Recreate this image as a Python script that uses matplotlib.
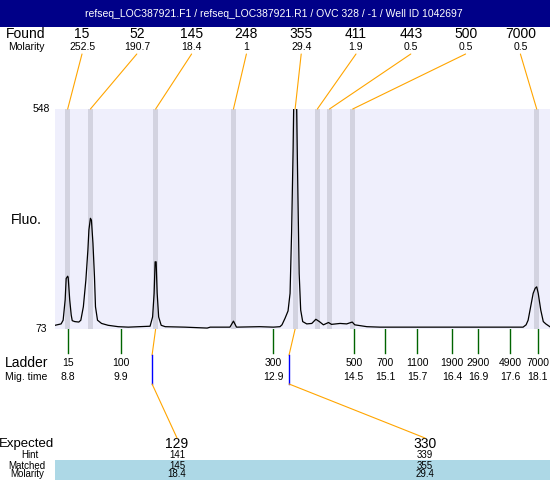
import matplotlib
matplotlib.use("Agg")
import matplotlib.pyplot as plt
import matplotlib.transforms as mtransforms
from matplotlib.patches import Rectangle, ConnectionPatch

plt.rcParams['font.family'] = ['Liberation Sans', 'DejaVu Sans']

# ---- data ----
title = "refseq_LOC387921.F1 / refseq_LOC387921.R1 / OVC 328 / -1 / Well ID 1042697"

# found peaks (size, molarity, migration time in s)
found_sizes = ['15', '52', '145', '248', '355', '411', '443', '500', '7000']
found_molarity = ['252.5', '190.7', '18.4', '1', '29.4', '1.9', '0.5', '0.5', '0.5']
found_time = [8.80, 9.25, 10.54, 12.08, 13.30, 13.74, 13.98, 14.44, 18.08]

# ladder
ladder_sizes = ['15', '100', '300', '500', '700', '1100', '1900', '2900', '4900', '7000']
ladder_mig = ['8.8', '9.9', '12.9', '14.5', '15.1', '15.7', '16.4', '16.9', '17.6', '18.1']
ladder_time = [8.80, 9.86, 12.87, 14.46, 15.08, 15.72, 16.41, 16.92, 17.56, 18.10]

# expected products
expected_sizes = ['129', '330']
expected_time = [10.47, 13.18]
expected_found_time = [10.54, 13.30]
hint_sizes = ['141', '339']
matched_sizes = ['145', '355']
matched_molarity = ['18.4', '29.4']

# electropherogram trace
trace_time = [8.55, 8.67, 8.71, 8.75, 8.77, 8.80, 8.81, 8.84, 8.87, 8.89,
              8.94, 9.02, 9.06, 9.11, 9.16, 9.20, 9.22, 9.25, 9.27, 9.30,
              9.33, 9.35, 9.39, 9.47, 9.60, 9.80, 10.00, 10.43, 10.48, 10.51,
              10.53, 10.55, 10.57, 10.60, 10.65, 10.73, 11.12, 11.56, 11.62, 12.01,
              12.08, 12.14, 12.60, 12.87, 13.00, 13.04, 13.10, 13.16, 13.20, 13.23,
              13.26, 13.29, 13.31, 13.35, 13.38, 13.41, 13.45, 13.53, 13.63, 13.71,
              13.78, 13.86, 13.96, 14.02, 14.19, 14.32, 14.43, 14.48, 14.72, 14.98,
              15.97, 17.81, 17.87, 17.91, 17.96, 18.01, 18.05, 18.08, 18.11, 18.16,
              18.21, 18.26, 18.34]
trace_fluo = [81, 84, 92, 136, 182, 187, 184, 136, 103, 91,
              89, 88, 92, 121, 179, 244, 287, 312, 308, 258,
              186, 121, 92, 85, 81, 78, 77, 79, 99, 150,
              218, 218, 151, 99, 81, 78, 77, 75, 77, 77,
              90, 77, 78, 77, 78, 82, 96, 112, 150, 280,
              460, 700, 700, 400, 193, 114, 89, 84, 85, 94,
              89, 82, 87, 83, 85, 84, 88, 82, 78, 77,
              77, 77, 82, 92, 121, 150, 161, 164, 150, 114,
              89, 84, 78]

y_min, y_max = 73, 548

# ---- figure ----
fig = plt.figure(figsize=(5.5, 4.8), dpi=100)

# full-figure overlay in pixel coordinates (y down)
over = fig.add_axes([0, 0, 1, 1])
over.set_xlim(0, 550)
over.set_ylim(480, 0)
over.axis('off')

# main plot area
ax = fig.add_axes([55 / 550, 1 - 329 / 480, 495 / 550, 220 / 480])
ax.set_xlim(8.549, 18.343)
ax.set_ylim(y_min, y_max)
ax.set_facecolor('#EFEFFC')
for s in ax.spines.values():
    s.set_visible(False)
ax.set_xticks([])
ax.set_yticks([])

for t in found_time:
    ax.axvspan(t - 0.05, t + 0.05, color='#D3D3E0', lw=0, zorder=1)
ax.plot(trace_time, trace_fluo, color='black', lw=0.9, zorder=2)

blend_x = mtransforms.blended_transform_factory(ax.transData, over.transData)
blend_y = mtransforms.blended_transform_factory(over.transData, ax.transData)

# title bar
over.add_patch(Rectangle((0, 0), 550, 26.7, color='#000088', lw=0))
over.text(274, 14, title, color='white', fontsize=7.5, ha='center', va='center')

# found row
over.text(26, 34, 'Found', fontsize=10, ha='center', va='center')
over.text(26, 46.7, 'Molarity', fontsize=7.5, ha='center', va='center')
for i, (s, m, t) in enumerate(zip(found_sizes, found_molarity, found_time)):
    x = 82 + 54.8 * i
    over.text(x, 34, s, fontsize=10, ha='center', va='center')
    over.text(x, 46.7, m, fontsize=7.5, ha='center', va='center')
    con = ConnectionPatch(xyA=(x, 54), coordsA=over.transData,
                          xyB=(t, y_max), coordsB=ax.transData,
                          color='#FFA500', lw=0.8)
    fig.add_artist(con)

# y labels
over.text(41, y_max, '548', fontsize=7.5, ha='center', va='center', transform=blend_y)
over.text(41, y_min, '73', fontsize=7.5, ha='center', va='center', transform=blend_y)
over.text(26.5, 220, 'Fluo.', fontsize=10, ha='center', va='center')

# ladder
over.text(27, 363, 'Ladder', fontsize=10, ha='center', va='center')
over.text(26.5, 377, 'Mig. time', fontsize=7.5, ha='center', va='center')
for s, m, t in zip(ladder_sizes, ladder_mig, ladder_time):
    over.plot([t, t], [329, 353], color='#006400', lw=1.0, transform=blend_x)
    over.text(t, 363, s, fontsize=7.5, ha='center', va='center', transform=blend_x)
    over.text(t, 377, m, fontsize=7.5, ha='center', va='center', transform=blend_x)

# expected products
over.add_patch(Rectangle((55, 460), 495, 20, color='#ADD8E6', lw=0))
over.text(27, 444, 'Expected', fontsize=9.5, ha='center', va='center')
over.text(30, 455, 'Hint', fontsize=7, ha='center', va='center')
over.text(27, 465.7, 'Matched', fontsize=7, ha='center', va='center')
over.text(27, 474.3, 'Molarity', fontsize=7, ha='center', va='center')
label_x = [177, 425]
for i in range(len(expected_sizes)):
    te, tf, x = expected_time[i], expected_found_time[i], label_x[i]
    over.plot([tf, te], [329, 355], color='#FFA500', lw=0.8, transform=blend_x)
    over.plot([te, te], [355, 384], color='#0000FF', lw=1.0, transform=blend_x)
    con = ConnectionPatch(xyA=(te, 384), coordsA=blend_x,
                          xyB=(x, 438), coordsB=over.transData,
                          color='#FFA500', lw=0.8)
    fig.add_artist(con)
    over.text(x, 444, expected_sizes[i], fontsize=10, ha='center', va='center')
    over.text(x, 455, hint_sizes[i], fontsize=7, ha='center', va='center')
    over.text(x, 465.7, matched_sizes[i], fontsize=7, ha='center', va='center')
    over.text(x, 474.3, matched_molarity[i], fontsize=7, ha='center', va='center')

fig.savefig('out.png', dpi=100)
